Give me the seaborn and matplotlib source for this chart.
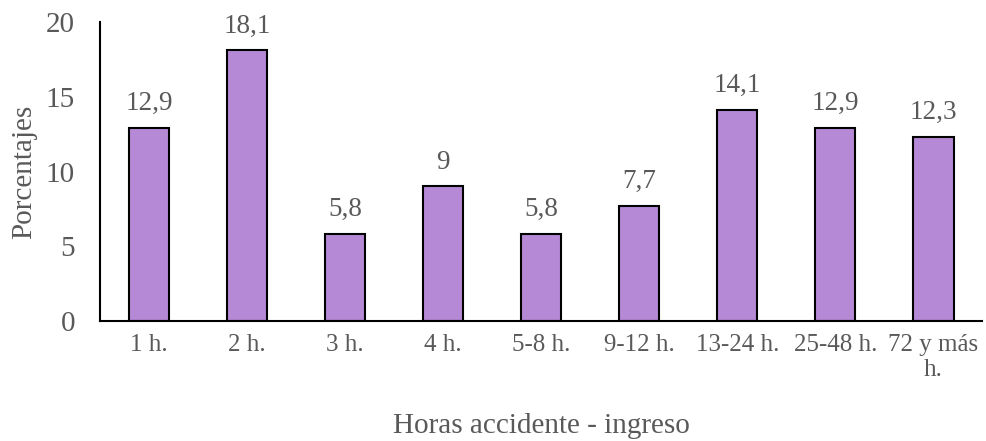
import matplotlib
matplotlib.use("Agg")
import matplotlib.pyplot as plt
import seaborn as sns
import pandas as pd

categorias = ["1 h.", "2 h.", "3 h.", "4 h.", "5-8 h.", "9-12 h.", "13-24 h.", "25-48 h.", "72 y más\nh."]
porcentajes = [12.9, 18.1, 5.8, 9, 5.8, 7.7, 14.1, 12.9, 12.3]

sns.set_theme(style="white")
plt.rcParams["font.family"] = ["Liberation Serif", "DejaVu Serif"]
gris = "#595959"

df = pd.DataFrame({"cat": categorias, "val": porcentajes})

fig = plt.figure(figsize=(9.86, 4.41), dpi=100)
ax = fig.add_axes([0.1014, 0.272, 0.895, 0.678])
sns.barplot(data=df, x="cat", y="val", color="#B589D6", saturation=1,
            edgecolor="black", linewidth=1.5, width=0.41, ax=ax)

# etiquetas de valor con coma decimal
for i, v in enumerate(porcentajes):
    txt = f"{v:g}".replace(".", ",")
    ax.text(i, v + 1.2, txt, ha="center", va="baseline", fontsize=19.5, color=gris)

ax.set_ylim(0, 20)
ax.set_yticks([0, 5, 10, 15, 20])
ax.set_xlim(-0.5, len(categorias) - 0.5)
ax.tick_params(axis="x", length=0, labelsize=18, colors=gris, pad=9)
ax.tick_params(axis="y", length=0, labelsize=21, colors=gris, pad=18)
ax.set_xlabel("Horas accidente - ingreso", fontsize=21, color=gris, labelpad=23)
ax.set_ylabel("Porcentajes", fontsize=21, color=gris, labelpad=6)
sns.despine(ax=ax)
for s in ["left", "bottom"]:
    ax.spines[s].set_color("black")
    ax.spines[s].set_linewidth(1.5)

fig.savefig("out.png", dpi=100)
